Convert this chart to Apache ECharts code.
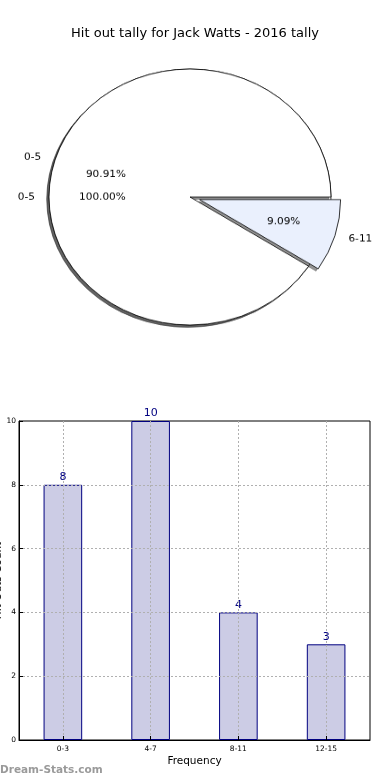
<!DOCTYPE html>
<html><head><meta charset="utf-8">
<script src="https://cdn.jsdelivr.net/npm/echarts@6/dist/echarts.min.js"></script>
<style>
html,body{margin:0;padding:0;background:#fff;}
#wrap{position:relative;width:390px;height:780px;overflow:hidden;}
#main{position:absolute;left:0;top:0;width:390px;height:780px;}
#pie{position:absolute;left:0;top:0;width:390px;height:400px;transform:scaleY(0.9078);transform-origin:0 0;}
</style></head><body>
<div id="wrap"><div id="main"></div><div id="pie"></div></div>
<script>
const titleText = 'Hit out tally for Jack Watts - 2016 tally';
const pieCategories = ['0-5', '6-11'];
const pieValues = [10, 1];
const pieColors = ['#ffffff', '#eaf0fd'];
const pieExploded = [false, true];
const fullCategories = ['0-5'];
const fullValues = [11];
const barCategories = ['0-3', '4-7', '8-11', '12-15'];
const barValues = [8, 10, 4, 3];
const yMin = 0, yMax = 10, yInterval = 2;
const xName = 'Frequency';
const yName = 'Hit Outs Count';
const watermark = 'Dream-Stats.com';

const FONT = 'DejaVu Sans';
const R = 141;
const CENTER = [190, 217];
const SH_DX = -2.2, SH_DY = 2.4;
const SHADOW_COLOR = 'rgba(60,60,60,0.55)';

function mkData(cats, vals, colors, exploded, mode) {
  return cats.map((c, i) => {
    let st;
    if (mode === 'fill') st = {color: colors[i], borderColor: '#000', borderWidth: 0.8};
    else if (mode === 'shadow') st = {color: SHADOW_COLOR, borderColor: SHADOW_COLOR, borderWidth: 0.8};
    else st = {color: 'rgba(0,0,0,0)', borderWidth: 0};
    return {name: c, value: vals[i], selected: !!(exploded && exploded[i]),
      itemStyle: st, select: {itemStyle: st}, emphasis: {itemStyle: st}};
  });
}
function basePie(cats, vals, exploded, center, radius) {
  return {
    type: 'pie', radius: radius, center: center, startAngle: 0, clockwise: false,
    avoidLabelOverlap: false, animation: false,
    selectedMode: exploded ? 'multiple' : false, selectedOffset: 10,
    emphasis: {disabled: true, scale: false}
  };
}
function shadowPie(cats, vals, exploded) {
  return Object.assign(basePie(cats, vals, exploded, [CENTER[0] + SH_DX, CENTER[1] + SH_DY], [0, R]), {
    data: mkData(cats, vals, null, exploded, 'shadow'),
    label: {show: false}, labelLine: {show: false}
  });
}
function namePie(cats, vals, colors, exploded) {
  return Object.assign(basePie(cats, vals, exploded, CENTER, [0, R]), {
    data: mkData(cats, vals, colors, exploded, 'fill'),
    label: {show: true, position: 'outside', formatter: '{b}', fontFamily: FONT, fontSize: 10.5,
      color: '#000', distanceToLabelLine: 0},
    labelLine: {show: false, length: R * 0.1, length2: 0}
  });
}
function pctPie(cats, vals, exploded) {
  return Object.assign(basePie(cats, vals, exploded, CENTER, [R * 0.2, R]), {
    data: mkData(cats, vals, null, exploded, 'none'),
    label: {show: true, position: 'inside', fontFamily: FONT, fontSize: 10.5, color: '#000',
      formatter: p => p.percent.toFixed(2) + '%'},
    labelLine: {show: false}
  });
}

const pieChart = echarts.init(document.getElementById('pie'), null, {renderer: 'canvas'});
pieChart.setOption({
  backgroundColor: 'transparent',
  series: [
    shadowPie(fullCategories, fullValues, null),
    namePie(fullCategories, fullValues, ['#ffffff'], null),
    pctPie(fullCategories, fullValues, null),
    shadowPie(pieCategories, pieValues, pieExploded),
    namePie(pieCategories, pieValues, pieColors, pieExploded),
    pctPie(pieCategories, pieValues, pieExploded)
  ]
});

const chart = echarts.init(document.getElementById('main'), null, {renderer: 'canvas'});
const dotted = {type: [2, 2], color: '#b0b0b0', width: 1};
chart.setOption({
  backgroundColor: '#fff',
  animation: false,
  title: {text: titleText, left: 'center', top: 22,
    textStyle: {fontFamily: FONT, fontSize: 13, fontWeight: 'normal', color: '#000'}},
  graphic: [{type: 'text', left: 0, top: 765,
    style: {text: watermark, fontFamily: FONT, fontSize: 10.5, fontWeight: 'bold', fill: '#9a9a9a'}}],
  grid: {left: 19, right: 20, top: 421, bottom: 40, show: true, borderColor: '#000', borderWidth: 1,
    backgroundColor: 'transparent', containLabel: false, outerBoundsMode: 'none'},
  xAxis: {
    type: 'category', data: barCategories, z: 3,
    axisLine: {show: true, lineStyle: {color: '#000', width: 1}},
    axisTick: {show: true, inside: true, alignWithLabel: true, length: 4, lineStyle: {color: '#000'}},
    axisLabel: {fontFamily: FONT, fontSize: 7.5, color: '#000', margin: 5},
    splitLine: {show: true, alignWithLabel: true, lineStyle: dotted},
    name: xName, nameLocation: 'middle', nameGap: 16, nameMoveOverlap: false,
    nameTextStyle: {fontFamily: FONT, fontSize: 10.5, color: '#000'}
  },
  yAxis: {
    type: 'value', min: yMin, max: yMax, interval: yInterval, z: 3,
    axisLine: {show: true, lineStyle: {color: '#000', width: 1}},
    axisTick: {show: true, inside: true, length: 4, lineStyle: {color: '#000'}},
    axisLabel: {fontFamily: FONT, fontSize: 7.5, color: '#000', margin: 3},
    splitLine: {show: true, showMinLine: false, showMaxLine: false, lineStyle: dotted},
    name: yName, nameLocation: 'middle', nameGap: 15, nameMoveOverlap: false,
    nameTextStyle: {fontFamily: FONT, fontSize: 10.5, color: '#000'}
  },
  series: [{
    type: 'bar', data: barValues, barWidth: '44%', z: 2,
    itemStyle: {color: '#cccce5', borderColor: '#000080', borderWidth: 1},
    label: {show: true, position: 'top', distance: 2, color: '#000080', fontFamily: FONT, fontSize: 11},
    emphasis: {disabled: true}
  }]
});
</script>
</body></html>
